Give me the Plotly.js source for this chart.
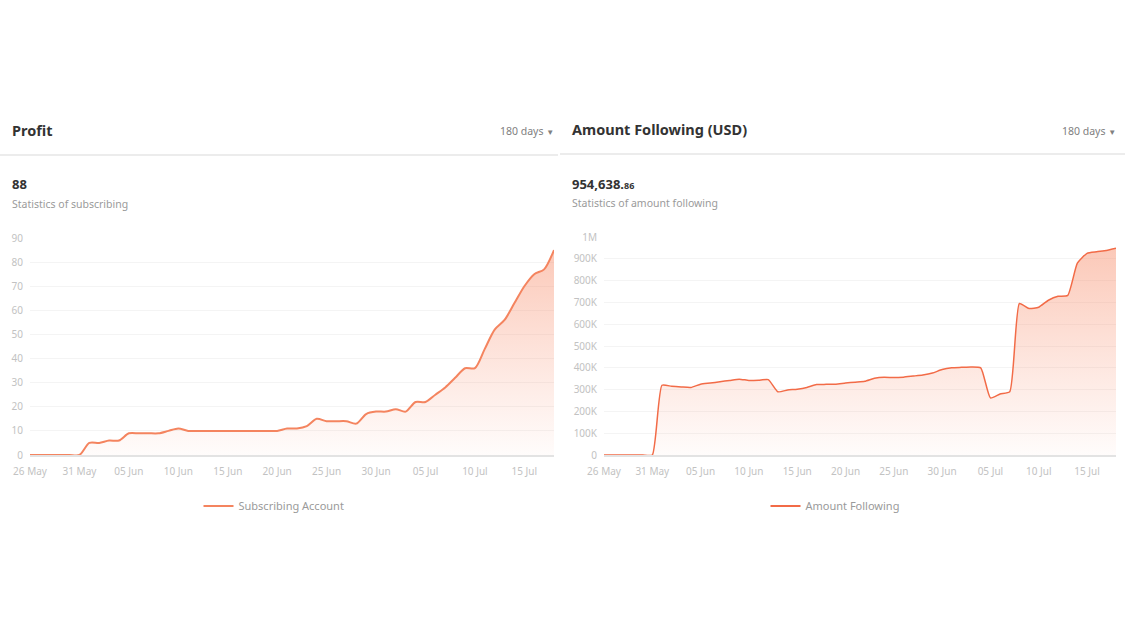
<!DOCTYPE html>
<html><head><meta charset="utf-8">
<script src="https://cdn.plot.ly/plotly-3.0.1.min.js"></script>
<style>html,body{margin:0;padding:0;background:#fff;}#chart{width:1125px;height:633px;}</style>
</head><body><div id="chart"></div>
<script>
const dates = [
'2023-05-26','2023-05-27','2023-05-28','2023-05-29','2023-05-30','2023-05-31',
'2023-06-01','2023-06-02','2023-06-03','2023-06-04','2023-06-05','2023-06-06','2023-06-07','2023-06-08','2023-06-09','2023-06-10',
'2023-06-11','2023-06-12','2023-06-13','2023-06-14','2023-06-15','2023-06-16','2023-06-17','2023-06-18','2023-06-19','2023-06-20',
'2023-06-21','2023-06-22','2023-06-23','2023-06-24','2023-06-25','2023-06-26','2023-06-27','2023-06-28','2023-06-29','2023-06-30',
'2023-07-01','2023-07-02','2023-07-03','2023-07-04','2023-07-05','2023-07-06','2023-07-07','2023-07-08','2023-07-09','2023-07-10',
'2023-07-11','2023-07-12','2023-07-13','2023-07-14','2023-07-15','2023-07-16','2023-07-17','2023-07-18'];

const subscribingAccount = [
0,0,0,0,0,0,
5,5,6,6,
9,9,9,9,10,
11,
10,10,10,10,10,10,10,10,10,
10,11,11,12,15,
14,14,14,13,
17,18,18,19,18,22,
22,25,28,32,36,36,
44,52,56,63,70,75,77,85];

const amountFollowing = [
0,0,0,0,0,0,
320000,315000,312000,310000,
325000,330000,336000,342000,348000,
342000,343000,346000,290000,298000,
302000,310000,323000,324000,325000,
330000,334000,338000,352000,357000,
355000,357000,362000,367000,376000,
392000,400000,402000,404000,400000,
262000,280000,290000,695000,672000,
678000,710000,728000,732000,880000,
925000,932000,938000,948000];

const xTickVals = ['2023-05-26','2023-05-31','2023-06-05','2023-06-10','2023-06-15','2023-06-20','2023-06-25','2023-06-30','2023-07-05','2023-07-10','2023-07-15'];
const xTickText = ['26 May','31 May','05 Jun','10 Jun','15 Jun','20 Jun','25 Jun','30 Jun','05 Jul','10 Jul','15 Jul'];
const leftYTickVals = [0,10,20,30,40,50,60,70,80,90];
const rightYTickVals = [0,100000,200000,300000,400000,500000,600000,700000,800000,900000,1000000];
const rightYTickText = ['0','100K','200K','300K','400K','500K','600K','700K','800K','900K','1M'];

const W = 1125, H = 633;
const px = x => x / W;
const py = y => 1 - y / H;
const FONT = '"Noto Sans", "Open Sans", sans-serif';
const tickFont = {family: FONT, size: 10, color: '#c2c2c2'};
const LEFT_COLOR = '#f4845f';
const RIGHT_COLOR = '#f26b47';

const traces = [
  {
    x: dates, y: subscribingAccount, name: 'Subscribing Account',
    type: 'scatter', mode: 'lines', xaxis: 'x', yaxis: 'y', showlegend: false,
    line: {color: LEFT_COLOR, width: 2, shape: 'spline', smoothing: 0.8},
    fill: 'tozeroy',
    fillgradient: {type: 'vertical', start: 0, stop: 90,
      colorscale: [[0, 'rgba(250,150,120,0.03)'], [1, 'rgba(247,140,105,0.50)']]}
  },
  {
    x: dates, y: amountFollowing, name: 'Amount Following',
    type: 'scatter', mode: 'lines', xaxis: 'x2', yaxis: 'y2', showlegend: false,
    line: {color: RIGHT_COLOR, width: 1.5, shape: 'spline', smoothing: 0.5},
    fill: 'tozeroy',
    fillgradient: {type: 'vertical', start: 0, stop: 1000000,
      colorscale: [[0, 'rgba(250,150,120,0.03)'], [1, 'rgba(247,140,105,0.50)']]}
  },
  // legend entries (line-only symbols, like the reference)
  {x: [dates[0]], y: [null], name: 'Subscribing Account', type: 'scatter', mode: 'lines', xaxis: 'x', yaxis: 'y',
   line: {color: LEFT_COLOR, width: 2}, legend: 'legend', showlegend: true},
  {x: [dates[0]], y: [null], name: 'Amount Following', type: 'scatter', mode: 'lines', xaxis: 'x2', yaxis: 'y2',
   line: {color: RIGHT_COLOR, width: 2}, legend: 'legend2', showlegend: true}
];

const xCommon = {
  type: 'date', tickvals: xTickVals, ticktext: xTickText,
  range: ['2023-05-26', '2023-07-18'],
  showgrid: false, zeroline: false, showline: true, linecolor: '#e3e3e3', linewidth: 2,
  ticks: '', tickfont: tickFont, ticklabelstandoff: 6, fixedrange: true
};
const yCommon = {
  showgrid: true, gridcolor: '#f4f4f4', gridwidth: 1, zeroline: false, showline: false,
  ticks: '', tickfont: tickFont, ticklabelstandoff: 6, fixedrange: true
};

const ann = (text, x, y, size, color, opts) => Object.assign({
  text: text, xref: 'paper', yref: 'paper', x: px(x), y: py(y),
  xanchor: 'left', yanchor: 'middle', showarrow: false,
  font: {family: FONT, size: size, color: color}
}, opts || {});

const legendCommon = {yanchor: 'middle', xanchor: 'center', orientation: 'h', itemwidth: 30,
  font: {family: FONT, size: 11, color: '#9a9a9a'}, bgcolor: 'rgba(0,0,0,0)'};

const layout = {
  width: W, height: H,
  margin: {l: 0, r: 0, t: 0, b: 0},
  paper_bgcolor: '#ffffff', plot_bgcolor: 'rgba(0,0,0,0)',
  font: {family: FONT},
  xaxis: Object.assign({}, xCommon, {domain: [px(30), px(554)], anchor: 'y'}),
  yaxis: Object.assign({}, yCommon, {domain: [py(455), py(238)], range: [0, 90], tickvals: leftYTickVals, anchor: 'x'}),
  xaxis2: Object.assign({}, xCommon, {domain: [px(604), px(1116)], anchor: 'y2'}),
  yaxis2: Object.assign({}, yCommon, {domain: [py(455), py(237)], range: [0, 1000000], tickvals: rightYTickVals, ticktext: rightYTickText, anchor: 'x2'}),
  legend: Object.assign({}, legendCommon, {x: px(274), y: py(506)}),
  legend2: Object.assign({}, legendCommon, {x: px(835), y: py(506)}),
  shapes: [
    {type: 'line', xref: 'paper', yref: 'paper', x0: 0, x1: px(558), y0: py(155), y1: py(155), line: {color: '#ececec', width: 2}},
    {type: 'line', xref: 'paper', yref: 'paper', x0: px(560), x1: 1, y0: py(154), y1: py(154), line: {color: '#ececec', width: 2}}
  ],
  annotations: [
    ann('<b>Profit</b>', 10, 130, 14.5, '#333333'),
    ann('180 days <span style="font-size:8px">▼</span>', 556, 131, 10.5, '#808080', {xanchor: 'right'}),
    ann('<b>88</b>', 10, 184, 13, '#333333'),
    ann('Statistics of subscribing', 10, 204, 10.5, '#9a9a9a'),
    ann('<b>Amount Following (USD)</b>', 570, 129, 14.5, '#333333'),
    ann('180 days <span style="font-size:8px">▼</span>', 1118, 131, 10.5, '#808080', {xanchor: 'right'}),
    ann('<b>954,638.<span style="font-size:9px">86</span></b>', 570, 184, 13, '#333333'),
    ann('Statistics of amount following', 570, 203, 10.5, '#9a9a9a')
  ],
  showlegend: true
};

Plotly.newPlot('chart', traces, layout, {displayModeBar: false, staticPlot: true});
</script>
</body></html>
